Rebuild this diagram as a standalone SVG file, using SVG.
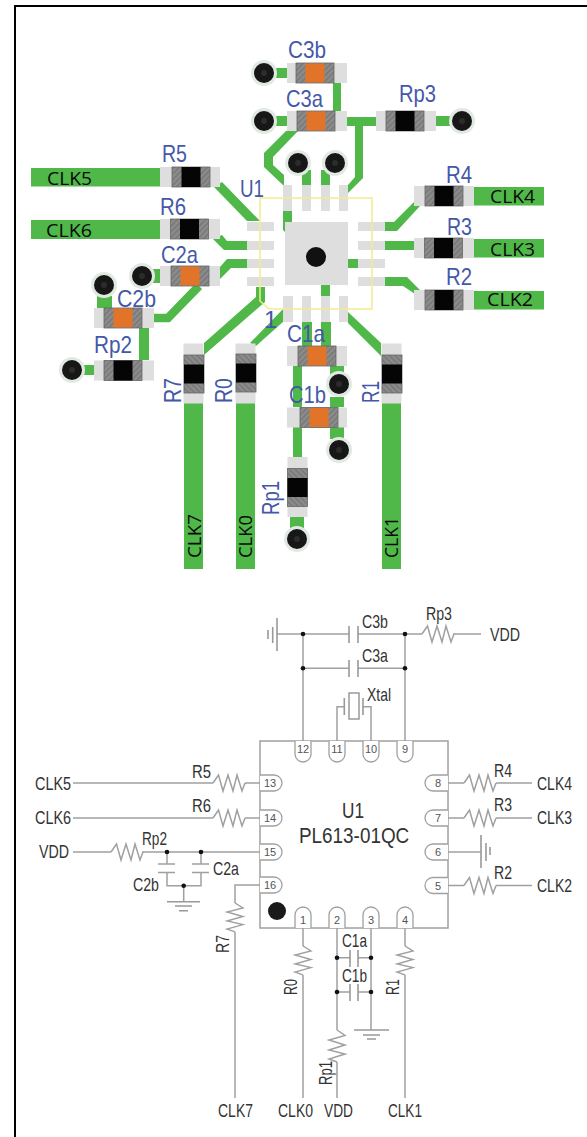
<svg xmlns="http://www.w3.org/2000/svg" width="587" height="1137" viewBox="0 0 587 1137">
<style>
.b{font-family:"Liberation Sans",Arial,sans-serif;font-size:24px;fill:#4458a8}
.k{font-family:"Open Sans","Noto Sans",sans-serif;font-size:19px;fill:#0a0a0a}
.s{font-family:"Liberation Sans",Arial,sans-serif;font-size:19px;fill:#333}
.n{font-family:"Liberation Sans",Arial,sans-serif;font-size:11px;fill:#555;text-anchor:middle}
.h{font-family:"Liberation Sans",Arial,sans-serif;font-size:22.5px;fill:#333}
.t{fill:#4fb848;stroke:none}
.tl{fill:none;stroke:#4fb848;stroke-width:8.5}
.p{fill:#dedede}
.w{fill:none;stroke:#a0a0a0;stroke-width:1.5}
.g{fill:none;stroke:#999;stroke-width:1.6}
.pin{fill:#fff;stroke:#a0a0a0;stroke-width:1.3}
.j{fill:#111}
</style>
<defs>
<pattern id="hatch" width="4" height="4" patternUnits="userSpaceOnUse" patternTransform="rotate(45)">
<rect width="4" height="4" fill="#8c8c8c"/><rect width="1.5" height="4" fill="#777"/>
</pattern>
<g id="rb"><rect x="-19" y="-10" width="38" height="20" fill="url(#hatch)" stroke="#666" stroke-width=".8"/><rect x="-9.5" y="-10" width="19" height="20" fill="#050505"/></g>
<g id="cb"><rect x="-19" y="-10" width="38" height="20" fill="url(#hatch)" stroke="#666" stroke-width=".8"/><rect x="-9.5" y="-9.5" width="19" height="19" fill="#e2742a"/></g>
<rect id="pd" class="p" x="-30" y="-10" width="60" height="20"/>
<g id="via"><circle r="13" fill="#e2e9e2"/><circle r="10" fill="#171717"/><circle r="3" fill="#2c2c2c"/></g>
<path id="res" d="M0 0L5.500-8 10 8 15-8 20 8 24-8 29 8 32 0" fill="none" stroke="#a0a0a0" stroke-width="1.5"/>
<circle id="jn" class="j" r="2.300"/>
</defs>
<rect width="587" height="1137" fill="#fff"/>
<rect x="14" y="5" width="573" height="2" fill="#000"/>
<rect x="14" y="5" width="2" height="1132" fill="#000"/>

<g id="pcb-traces">
<rect class="t" x="31" y="168" width="130" height="18.500"/>
<rect class="t" x="31" y="220" width="130" height="19"/>
<rect class="t" x="474" y="187" width="70" height="18.500"/>
<rect class="t" x="474" y="239" width="70" height="18.500"/>
<rect class="t" x="474" y="291" width="70" height="18.500"/>
<rect class="t" x="184" y="403" width="19" height="166"/>
<rect class="t" x="236" y="403" width="19" height="166"/>
<rect class="t" x="382" y="403" width="19" height="166"/>
<polygon class="t" points="214,187 222,182 260,221 247,221"/>
<polygon class="t" points="213,239 222,235 227,241 248,241 248,250 224,250"/>
<polygon class="t" points="220,267 227,259 248,259 248,268 231,268 220,279"/>
<polyline class="tl" points="154,318 168,318 199,286"/>
<rect class="t" x="97" y="296" width="15" height="12"/>
<rect class="t" x="139" y="328" width="10" height="32"/>
<rect class="t" x="153" y="269" width="8" height="14"/>
<rect class="t" x="84" y="365" width="10" height="10"/>
<polygon class="t" points="204,343 256,297 256,287 265,287 265,302 204,355"/>
<polygon class="t" points="250,343 256,346 284,321 284,308"/>
<polygon class="t" points="348,312 381,343 381,356 348,323"/>
<polygon class="t" points="286,131 298,131 273,157 273,165 284,175 284,186 264,167 264,153"/>
<rect class="t" x="283" y="211" width="9" height="11"/>
<polygon class="t" points="283,222 285,222 285,232 283,230"/>
<rect class="t" x="302" y="170" width="9" height="15"/>
<rect class="t" x="321" y="170" width="9" height="15"/>
<rect class="t" x="333" y="83" width="8" height="28"/>
<rect class="t" x="347" y="117" width="29" height="9"/>
<polygon class="t" points="355,126 363,126 363,178 348,193 348,185 355,177"/>
<rect class="t" x="275" y="68" width="12" height="10"/>
<rect class="t" x="275" y="116" width="12" height="10"/>
<rect class="t" x="436" y="116" width="16" height="10"/>
<polygon class="t" points="385,222 394,222 415,201 420,206 397,231 385,231"/>
<rect class="t" x="385" y="241" width="29" height="9"/>
<polygon class="t" points="385,277 407,277 420,290 415,294 403,286 385,286"/>
<rect class="t" x="348" y="259" width="10" height="9"/>
<rect class="t" x="321" y="285" width="9" height="11"/>
<rect class="t" x="302" y="322" width="10" height="25"/>
<rect class="t" x="321" y="322" width="10" height="25"/>
<rect class="t" x="293" y="366" width="9" height="41"/>
<rect class="t" x="293" y="427" width="9" height="31"/>
<rect class="t" x="290" y="517" width="14" height="12"/>
<rect class="t" x="330" y="366" width="14" height="10"/>
<rect class="t" x="330" y="397" width="14" height="10"/>
<rect class="t" x="330" y="427" width="14" height="12"/>
</g>

<g id="pcb-U1">
<rect class="p" x="285" y="222" width="63" height="63"/>
<rect class="p" x="247" y="222" width="27" height="9"/><rect class="p" x="247" y="241" width="27" height="9"/><rect class="p" x="247" y="259" width="27" height="9"/><rect class="p" x="247" y="277" width="27" height="9"/>
<rect class="p" x="358" y="222" width="27" height="9"/><rect class="p" x="358" y="241" width="27" height="9"/><rect class="p" x="358" y="259" width="27" height="9"/><rect class="p" x="358" y="277" width="27" height="9"/>
<rect class="p" x="283" y="185" width="9" height="26"/><rect class="p" x="302" y="185" width="9" height="26"/><rect class="p" x="321" y="185" width="9" height="26"/><rect class="p" x="339" y="185" width="9" height="26"/>
<rect class="p" x="283" y="296" width="10" height="26"/><rect class="p" x="302" y="296" width="9" height="26"/><rect class="p" x="321" y="296" width="9" height="26"/><rect class="p" x="339" y="296" width="9" height="26"/>
<circle cx="316" cy="257" r="10" fill="#111"/>
<polygon points="260,198 372,198 372,309 269,309 260,301" fill="none" stroke="#f5ec8c" stroke-width="1.500"/>
<text class="b" x="240" y="197" textLength="24" lengthAdjust="spacingAndGlyphs">U1</text>
<text class="b" x="264" y="328">1</text>
</g>

<g id="pcb-C3b"><use href="#pd" transform="translate(317,73)"/><use href="#cb" transform="translate(315,73)"/><use href="#via" x="264" y="73"/><text class="b" x="288" y="58" textLength="38" lengthAdjust="spacingAndGlyphs">C3b</text></g>
<g id="pcb-C3a"><use href="#pd" transform="translate(317,121)"/><use href="#cb" transform="translate(316,121)"/><use href="#via" x="264" y="121"/><text class="b" x="286" y="107" textLength="37" lengthAdjust="spacingAndGlyphs">C3a</text></g>
<g id="pcb-Rp3"><use href="#pd" transform="translate(406,121)"/><use href="#rb" transform="translate(405,121)"/><use href="#via" x="462" y="121"/><text class="b" x="399" y="102" textLength="37" lengthAdjust="spacingAndGlyphs">Rp3</text></g>
<g id="pcb-vias"><use href="#via" x="298" y="163"/><use href="#via" x="335" y="163"/></g>
<g id="pcb-R5"><use href="#pd" transform="translate(190,177)"/><use href="#rb" transform="translate(191,177)"/><text class="b" x="162" y="162" textLength="25" lengthAdjust="spacingAndGlyphs">R5</text><text class="k" x="47" y="185" textLength="45" lengthAdjust="spacingAndGlyphs">CLK5</text></g>
<g id="pcb-R6"><use href="#pd" transform="translate(190,229)"/><use href="#rb" transform="translate(189.500,229)"/><text class="b" x="160" y="215" textLength="26" lengthAdjust="spacingAndGlyphs">R6</text><text class="k" x="46" y="237" textLength="46" lengthAdjust="spacingAndGlyphs">CLK6</text></g>
<g id="pcb-C2a"><use href="#pd" transform="translate(190,276)"/><use href="#cb" transform="translate(190,276)"/><use href="#via" x="142" y="276"/><text class="b" x="161" y="263" textLength="37" lengthAdjust="spacingAndGlyphs">C2a</text></g>
<g id="pcb-C2b"><use href="#pd" transform="translate(124,318)"/><use href="#cb" transform="translate(123,318)"/><use href="#via" x="104" y="285"/><text class="b" x="117" y="307" textLength="39" lengthAdjust="spacingAndGlyphs">C2b</text></g>
<g id="pcb-Rp2"><use href="#pd" transform="translate(124,370.500)"/><use href="#rb" transform="translate(123,370.500)"/><use href="#via" x="72" y="370"/><text class="b" x="94" y="353" textLength="38" lengthAdjust="spacingAndGlyphs">Rp2</text></g>
<g id="pcb-R4"><use href="#pd" transform="translate(444,196)"/><use href="#rb" transform="translate(444,196)"/><text class="b" x="446" y="183" textLength="26" lengthAdjust="spacingAndGlyphs">R4</text><text class="k" x="490" y="203" textLength="45" lengthAdjust="spacingAndGlyphs">CLK4</text></g>
<g id="pcb-R3"><use href="#pd" transform="translate(444,248)"/><use href="#rb" transform="translate(443.500,248)"/><text class="b" x="447" y="235" textLength="25" lengthAdjust="spacingAndGlyphs">R3</text><text class="k" x="490" y="256" textLength="45" lengthAdjust="spacingAndGlyphs">CLK3</text></g>
<g id="pcb-R2"><use href="#pd" transform="translate(444,300)"/><use href="#rb" transform="translate(444,300)"/><text class="b" x="446" y="285" textLength="26" lengthAdjust="spacingAndGlyphs">R2</text><text class="k" x="487" y="306" textLength="46" lengthAdjust="spacingAndGlyphs">CLK2</text></g>
<g id="pcb-R7"><use href="#pd" transform="translate(193.500,373.500) rotate(90)"/><use href="#rb" transform="translate(194,374) rotate(90)"/><text class="b" transform="translate(181,403) rotate(-90)" textLength="25" lengthAdjust="spacingAndGlyphs">R7</text><text class="k" transform="translate(201,558) rotate(-90)" textLength="44" lengthAdjust="spacingAndGlyphs">CLK7</text></g>
<g id="pcb-R0"><use href="#pd" transform="translate(245.500,373.500) rotate(90)"/><use href="#rb" transform="translate(246,373) rotate(90)"/><text class="b" transform="translate(232,403) rotate(-90)" textLength="25" lengthAdjust="spacingAndGlyphs">R0</text><text class="k" transform="translate(252,558) rotate(-90)" textLength="43" lengthAdjust="spacingAndGlyphs">CLK0</text></g>
<g id="pcb-R1"><use href="#pd" transform="translate(391.500,373.500) rotate(90)"/><use href="#rb" transform="translate(392,374) rotate(90)"/><text class="b" transform="translate(379,403) rotate(-90)" textLength="22" lengthAdjust="spacingAndGlyphs">R1</text><text class="k" transform="translate(398,558) rotate(-90)" textLength="41" lengthAdjust="spacingAndGlyphs">CLK1</text></g>
<g id="pcb-C1a"><use href="#pd" transform="translate(317,356)"/><use href="#cb" transform="translate(317,356)"/><use href="#via" x="339" y="384"/><text class="b" x="287" y="342" textLength="38" lengthAdjust="spacingAndGlyphs">C1a</text></g>
<g id="pcb-C1b"><use href="#pd" transform="translate(317,417.500)"/><use href="#cb" transform="translate(319,417.500)"/><use href="#via" x="339" y="450"/><text class="b" x="289" y="403" textLength="37" lengthAdjust="spacingAndGlyphs">C1b</text></g>
<g id="pcb-Rp1"><use href="#pd" transform="translate(297.500,487) rotate(90)"/><use href="#rb" transform="translate(297.500,487.500) rotate(90)"/><use href="#via" x="297" y="539"/><text class="b" transform="translate(279,515) rotate(-90)" textLength="34" lengthAdjust="spacingAndGlyphs">Rp1</text></g>

<g id="sch-connectors">
<path class="w" d="M73 783H213M245 783H260M73 818H213M245 818H260"/>
<path class="w" d="M73 852H111M142 852H260"/>
<path class="w" d="M167 852V864M201 852V864M167 872V885.700H201V872M183.700 885.700V901.700"/>
<path class="w" d="M260 885H235V903M235 932V1098"/>
<path class="w" d="M277 634H349M358 634H422M453 634H481"/>
<path class="w" d="M303 668.300H349M358 668.300H405"/>
<path class="w" d="M303 634V741M405 634V741"/>
<path class="w" d="M337 741V706.700H344M363 706.700H371V741"/>
<path class="w" d="M448 783H464M496 783H532M448 818H464M496 818H532M448 885.500H464M496 885.500H532"/>
<path class="w" d="M448 852H481"/>
<path class="w" d="M303 928V946M303 975V1098M405 928V946M405 975V1098"/>
<path class="w" d="M337 928V1030M337 1062V1098M371 928V1030"/>
<path class="w" d="M337 957.700H350M358 957.700H371M337 992H350M358 992H371"/>
</g>

<g id="sch-U1">
<rect x="260" y="741" width="188" height="187" fill="none" stroke="#a0a0a0" stroke-width="1.500"/>
<path class="pin" d="M260 775H274a8 8 0 0 1 0 16H260M260 810H274a8 8 0 0 1 0 16H260M260 844H274a8 8 0 0 1 0 16H260M260 877H274a8 8 0 0 1 0 16H260"/>
<path class="pin" d="M448 775H433a8 8 0 0 0 0 16H448M448 810H433a8 8 0 0 0 0 16H448M448 844H433a8 8 0 0 0 0 16H448M448 877.500H433a8 8 0 0 0 0 16H448"/>
<path class="pin" d="M295 741V754a8 8 0 0 0 16 0V741M329 741V754a8 8 0 0 0 16 0V741M363 741V754a8 8 0 0 0 16 0V741M397 741V754a8 8 0 0 0 16 0V741"/>
<path class="pin" d="M295 928V915a8 8 0 0 1 16 0V928M329 928V915a8 8 0 0 1 16 0V928M363 928V915a8 8 0 0 1 16 0V928M397 928V915a8 8 0 0 1 16 0V928"/>
<text class="n" x="270" y="787">13</text><text class="n" x="270" y="822">14</text><text class="n" x="270" y="856">15</text><text class="n" x="270" y="889">16</text>
<text class="n" x="438" y="787">8</text><text class="n" x="438" y="822">7</text><text class="n" x="438" y="856">6</text><text class="n" x="438" y="890">5</text>
<text class="n" x="303" y="753">12</text><text class="n" x="337" y="753">11</text><text class="n" x="371" y="753">10</text><text class="n" x="405" y="753">9</text>
<text class="n" x="303" y="924">1</text><text class="n" x="337" y="924">2</text><text class="n" x="371" y="924">3</text><text class="n" x="405" y="924">4</text>
<circle cx="277" cy="911" r="9" fill="#1a1a1a"/>
<text class="h" x="342" y="817.500" textLength="22" lengthAdjust="spacingAndGlyphs">U1</text>
<text class="h" transform="translate(299,843) scale(.84,1)">PL613-01QC</text>
</g>

<g id="sch-R5"><use href="#res" transform="translate(213,783)"/><text class="s" x="192" y="778" textLength="19" lengthAdjust="spacingAndGlyphs">R5</text><text class="s" x="35" y="790" textLength="36" lengthAdjust="spacingAndGlyphs">CLK5</text></g>
<g id="sch-R6"><use href="#res" transform="translate(213,818)"/><text class="s" x="192" y="812" textLength="19" lengthAdjust="spacingAndGlyphs">R6</text><text class="s" x="35" y="824" textLength="36" lengthAdjust="spacingAndGlyphs">CLK6</text></g>
<g id="sch-Rp2"><use href="#res" transform="translate(111,852)"/><use href="#jn" x="167" y="852"/><text class="s" x="142" y="845" textLength="25" lengthAdjust="spacingAndGlyphs">Rp2</text><text class="s" x="39" y="858" textLength="30" lengthAdjust="spacingAndGlyphs">VDD</text></g>
<g id="sch-C2b"><path class="w" d="M158 864H175M158 872.500H175"/><text class="s" x="133" y="891" textLength="26" lengthAdjust="spacingAndGlyphs">C2b</text></g>
<g id="sch-C2a"><path class="w" d="M192 864H209M192 872.500H209"/><use href="#jn" x="201" y="852"/><text class="s" x="213" y="875" textLength="26" lengthAdjust="spacingAndGlyphs">C2a</text></g>
<g id="sch-gnd-left"><use href="#jn" x="183.700" y="885.700"/><path class="g" d="M167 901.700H200M175 906H192M179 910.700H188"/></g>
<g id="sch-R7"><use href="#res" transform="translate(235,903) rotate(90) scale(.9,1)"/><text class="s" transform="translate(229,953) rotate(-90)" textLength="18" lengthAdjust="spacingAndGlyphs">R7</text><text class="s" x="218" y="1117" textLength="35" lengthAdjust="spacingAndGlyphs">CLK7</text></g>
<g id="sch-gnd-top"><path class="g" d="M277 618V651M272.700 627V643M268 630V639"/></g>
<g id="sch-C3b"><path class="g" d="M349 626V643M358 626V643"/><use href="#jn" x="303" y="634"/><use href="#jn" x="405" y="634"/><text class="s" x="362" y="628" textLength="26" lengthAdjust="spacingAndGlyphs">C3b</text></g>
<g id="sch-C3a"><path class="g" d="M349 660V677M358 660V677"/><use href="#jn" x="303" y="668.300"/><use href="#jn" x="405" y="668.300"/><text class="s" x="362" y="662" textLength="26" lengthAdjust="spacingAndGlyphs">C3a</text></g>
<g id="sch-Rp3"><use href="#res" transform="translate(422,634)"/><text class="s" x="426" y="620" textLength="26" lengthAdjust="spacingAndGlyphs">Rp3</text><text class="s" x="490" y="641" textLength="30" lengthAdjust="spacingAndGlyphs">VDD</text></g>
<g id="sch-Xtal"><path class="g" d="M344.300 698V715M363 698V715"/><rect x="349" y="693" width="10" height="26" fill="none" stroke="#999" stroke-width="1.500"/><text class="s" x="367" y="701" textLength="24" lengthAdjust="spacingAndGlyphs">Xtal</text></g>
<g id="sch-R4"><use href="#res" transform="translate(464,783)"/><text class="s" x="494" y="777" textLength="18" lengthAdjust="spacingAndGlyphs">R4</text><text class="s" x="537" y="790" textLength="35" lengthAdjust="spacingAndGlyphs">CLK4</text></g>
<g id="sch-R3"><use href="#res" transform="translate(464,818)"/><text class="s" x="494" y="811" textLength="18" lengthAdjust="spacingAndGlyphs">R3</text><text class="s" x="537" y="824" textLength="35" lengthAdjust="spacingAndGlyphs">CLK3</text></g>
<g id="sch-gnd-right"><path class="g" d="M481 835V868M486 843V861M490 847V855"/></g>
<g id="sch-R2"><use href="#res" transform="translate(464,885.500)"/><text class="s" x="494" y="879" textLength="18" lengthAdjust="spacingAndGlyphs">R2</text><text class="s" x="537" y="892" textLength="35" lengthAdjust="spacingAndGlyphs">CLK2</text></g>
<g id="sch-R0"><use href="#res" transform="translate(303,946) rotate(90) scale(.9,1)"/><text class="s" transform="translate(297,995) rotate(-90)" textLength="16" lengthAdjust="spacingAndGlyphs">R0</text><text class="s" x="278" y="1117" textLength="35" lengthAdjust="spacingAndGlyphs">CLK0</text></g>
<g id="sch-R1"><use href="#res" transform="translate(405,946) rotate(90) scale(.9,1)"/><text class="s" transform="translate(399,995) rotate(-90)" textLength="16" lengthAdjust="spacingAndGlyphs">R1</text><text class="s" x="388" y="1117" textLength="34" lengthAdjust="spacingAndGlyphs">CLK1</text></g>
<g id="sch-Rp1"><use href="#res" transform="translate(337,1030)  rotate(90)"/><text class="s" transform="translate(332,1085) rotate(-90)" textLength="24" lengthAdjust="spacingAndGlyphs">Rp1</text><text class="s" x="324" y="1117" textLength="29" lengthAdjust="spacingAndGlyphs">VDD</text></g>
<g id="sch-C1a"><path class="g" d="M350 950V967M358 950V967"/><use href="#jn" x="337" y="957.700"/><use href="#jn" x="371" y="957.700"/><text class="s" x="342" y="947" textLength="25" lengthAdjust="spacingAndGlyphs">C1a</text></g>
<g id="sch-C1b"><path class="g" d="M350 984V1001M358 984V1001"/><use href="#jn" x="337" y="992"/><use href="#jn" x="371" y="992"/><text class="s" x="342" y="982" textLength="25" lengthAdjust="spacingAndGlyphs">C1b</text></g>
<g id="sch-gnd-bottom"><path class="g" d="M354 1030H389M363 1035H380M367 1039H376"/></g>
</svg>
